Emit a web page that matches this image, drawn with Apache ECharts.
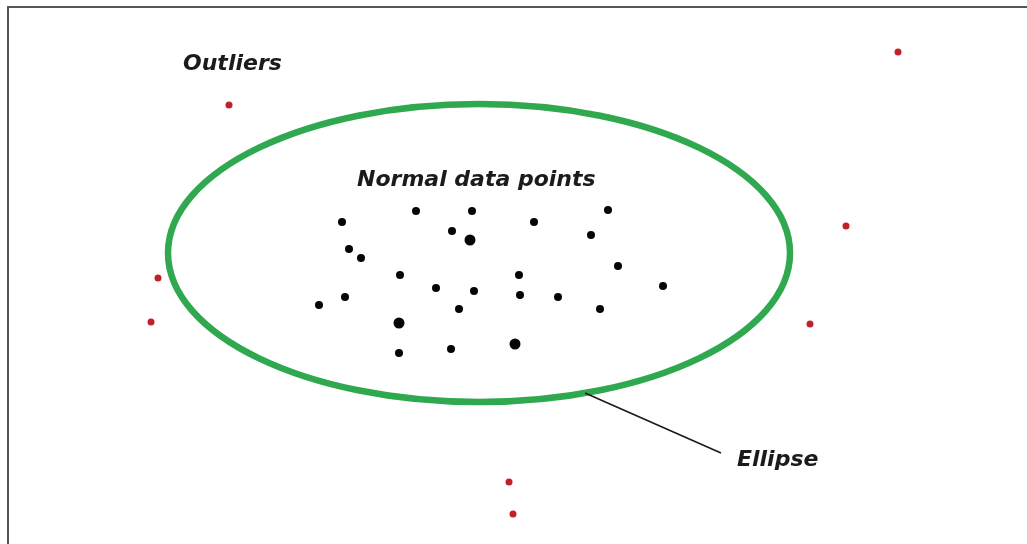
<!DOCTYPE html>
<html lang="en">
  <head>
    <meta charset="UTF-8" />
    <title>Outliers and ellipse</title>
    <style>
      html, body { margin: 0; padding: 0; background: #fff; }
      #main { width: 1027px; height: 544px; }
    </style>
  </head>
  <body>
    <div id="main"></div>
    <script src="https://cdn.jsdelivr.net/npm/echarts@6/dist/echarts.min.js"></script>
    <script>
      // points inside the ellipse (x, y in picture units, y grows downward)
      const normalPoints = [
        [342, 222], [416, 211], [472, 211], [534, 222], [608, 210],
        [452, 231], [591, 235], [349, 249], [361, 258], [400, 275],
        [519, 275], [618, 266], [436, 288], [474, 291], [520, 295],
        [558, 297], [663, 286], [345, 297], [319, 305], [459, 309],
        [600, 309], [399, 353], [451, 349]
      ];
      // the few slightly bigger dots
      const largePoints = [[470, 240], [399, 323], [515, 344]];
      // outliers outside the ellipse
      const outlierPoints = [
        [229, 105], [898, 52], [846, 226], [810, 324],
        [158, 278], [151, 322], [509, 482], [513, 514]
      ];
      // ellipse centre and full width / height
      const ellipseCenter = [479, 253];
      const ellipseSize = [622, 298];
      // pointer line from the ellipse to its label
      const pointerLine = [[585, 393], [721, 453]];
      // annotations: [x, y, text]
      const labels = [
        [183, 64, "Outliers"],
        [357, 180, "Normal data points"],
        [737, 460, "Ellipse"]
      ];

      const myChart = echarts.init(document.getElementById("main"));

      const textStyle = {
        show: true,
        position: "right",
        distance: 0,
        formatter: (p) => p.data[2],
        fontFamily: "DejaVu Sans",
        fontStyle: "italic",
        fontWeight: "bold",
        fontSize: 22,
        color: "#1b1b1b",
        opacity: 1
      };

      const option = {
        backgroundColor: "#fff",
        animation: false,
        grid: { left: 8, top: 7, right: 0, bottom: 0 },
        xAxis: {
          type: "value",
          min: 8,
          max: 1027,
          position: "top",
          axisLine: { show: true, onZero: false, lineStyle: { color: "#555", width: 2 } },
          axisTick: { show: false },
          axisLabel: { show: false },
          splitLine: { show: false }
        },
        yAxis: {
          type: "value",
          min: 7,
          max: 544,
          inverse: true,
          axisLine: { show: true, onZero: false, lineStyle: { color: "#555", width: 2 } },
          axisTick: { show: false },
          axisLabel: { show: false },
          splitLine: { show: false }
        },
        series: [
          {
            type: "custom",
            data: [[ellipseCenter[0], ellipseCenter[1], ellipseSize[0], ellipseSize[1]]],
            renderItem: function (params, api) {
              const c = api.coord([api.value(0), api.value(1)]);
              const s = api.size([api.value(2), api.value(3)], [api.value(0), api.value(1)]);
              return {
                type: "ellipse",
                shape: { cx: c[0], cy: c[1], rx: Math.abs(s[0]) / 2, ry: Math.abs(s[1]) / 2 },
                style: { fill: null, stroke: "#2fa84f", lineWidth: 6.5 }
              };
            },
            silent: true
          },
          {
            type: "line",
            data: pointerLine,
            symbol: "none",
            lineStyle: { color: "#1a1a1a", width: 1.6 },
            silent: true
          },
          {
            type: "scatter",
            data: normalPoints,
            symbolSize: 8,
            itemStyle: { color: "#050505", opacity: 1 }
          },
          {
            type: "scatter",
            data: largePoints,
            symbolSize: 11,
            itemStyle: { color: "#050505", opacity: 1 }
          },
          {
            type: "scatter",
            data: outlierPoints,
            symbolSize: 7,
            itemStyle: { color: "#c01f2c", opacity: 1 }
          },
          {
            type: "scatter",
            data: labels,
            symbolSize: 0,
            itemStyle: { opacity: 1 },
            label: textStyle,
            silent: true
          }
        ]
      };

      myChart.setOption(option);
    </script>
  </body>
</html>
